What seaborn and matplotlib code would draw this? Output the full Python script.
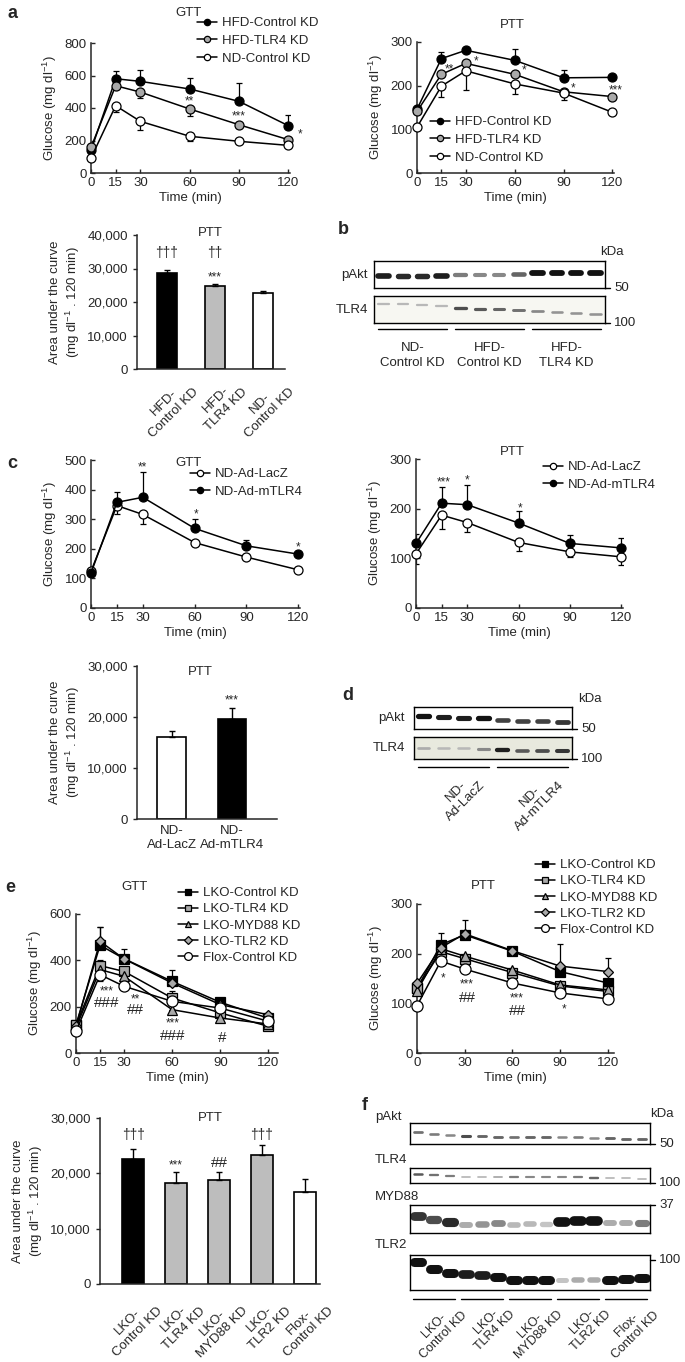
import matplotlib
matplotlib.use("Agg")
import matplotlib.pyplot as plt
import matplotlib.transforms as mtrans
import seaborn as sns
import pandas as pd

sns.set_style("ticks")
plt.rcParams["font.family"] = ["Liberation Sans", "DejaVu Sans"]
plt.rcParams["mathtext.default"] = "regular"
plt.rcParams["font.size"] = 9

# ---------------- data ----------------
TIME = [0, 15, 30, 60, 90, 120]

# a: GTT / PTT (signed error: + drawn up, - drawn down)
A_GTT_HFD_CTRL = [140, 580, 564, 517, 441, 291]
A_GTT_HFD_CTRL_ERR = [0, 50, 70, 68, 113, 68]
A_GTT_HFD_TLR4 = [158, 537, 498, 394, 297, 205]
A_GTT_HFD_TLR4_ERR = [0, 0, -36, -45, 0, 0]
A_GTT_ND_CTRL = [92, 414, 318, 226, 195, 170]
A_GTT_ND_CTRL_ERR = [0, -39, -55, -31, 0, 0]

A_PTT_HFD_CTRL = [146, 262, 281, 258, 218, 219]
A_PTT_HFD_CTRL_ERR = [0, 15, 5, 27, 19, 0]
A_PTT_HFD_TLR4 = [141, 226, 251, 226, 186, 175]
A_PTT_HFD_TLR4_ERR = [0, 0, 0, 0, -19, 0]
A_PTT_ND_CTRL = [105, 199, 234, 204, 183, 139]
A_PTT_ND_CTRL_ERR = [0, -24, -43, -22, 0, 0]

A_AUC_GROUPS = ["HFD-\nControl KD", "HFD-\nTLR4 KD", "ND-\nControl KD"]
A_AUC = [28700, 24700, 22600]
A_AUC_ERR = [900, 700, 600]

# c: adenoviral TLR4
C_GTT_LACZ = [124, 346, 316, 221, 172, 129]
C_GTT_LACZ_ERR = [0, -29, -32, -10, -5, 0]
C_GTT_MTLR4 = [118, 357, 374, 269, 210, 182]
C_GTT_MTLR4_ERR = [0, 36, 84, 31, 20, 8]

C_PTT_LACZ = [109, 187, 172, 132, 113, 103]
C_PTT_LACZ_ERR = [-20, -28, -18, -17, -11, -16]
C_PTT_MTLR4 = [130, 211, 208, 171, 130, 121]
C_PTT_MTLR4_ERR = [20, 32, 39, 24, 16, 19]

C_AUC_GROUPS = ["ND-\nAd-LacZ", "ND-\nAd-mTLR4"]
C_AUC = [16100, 19700]
C_AUC_ERR = [1100, 2100]

# e: LKO knockdowns
E_GTT_CTRL = [122, 465, 407, 309, 219, 150]
E_GTT_CTRL_ERR = [0, 80, 40, 48, 18, 0]
E_GTT_TLR4 = [120, 377, 352, 237, 173, 115]
E_GTT_TLR4_ERR = [0, 26, 19, 29, 0, 0]
E_GTT_MYD88 = [110, 360, 331, 187, 151, 125]
E_GTT_MYD88_ERR = [0, 0, 0, 0, 0, 0]
E_GTT_TLR2 = [115, 482, 406, 302, 209, 165]
E_GTT_TLR2_ERR = [0, 60, 0, 0, 0, 0]
E_GTT_FLOX = [94, 338, 288, 223, 194, 137]
E_GTT_FLOX_ERR = [0, -29, 0, 0, 0, 0]

E_PTT_CTRL = [130, 218, 238, 205, 164, 141]
E_PTT_CTRL_ERR = [0, 23, 30, 8, 0, 0]
E_PTT_TLR4 = [130, 204, 190, 162, 135, 124]
E_PTT_TLR4_ERR = [0, 0, 0, 0, 0, 0]
E_PTT_MYD88 = [125, 210, 195, 167, 137, 127]
E_PTT_MYD88_ERR = [0, 0, 0, 0, 0, 0]
E_PTT_TLR2 = [140, 212, 240, 206, 175, 164]
E_PTT_TLR2_ERR = [0, 0, 0, 0, 45, 27]
E_PTT_FLOX = [95, 185, 169, 141, 121, 109]
E_PTT_FLOX_ERR = [0, 0, 0, 0, 0, 0]

E_AUC_GROUPS = ["LKO-\nControl KD", "LKO-\nTLR4 KD", "LKO-\nMYD88 KD", "LKO-\nTLR2 KD", "Flox-\nControl KD"]
E_AUC = [22600, 18300, 18800, 23400, 16600]
E_AUC_ERR = [1800, 1900, 1400, 1800, 2400]

# western blots: band intensity (0-1) and vertical band position in box (0 top, 1 bottom)
B_PAKT = [0.95, 0.9, 0.9, 0.95, 0.55, 0.5, 0.5, 0.65, 1.0, 1.0, 1.0, 1.0]
B_PAKT_Y = [0.55, 0.55, 0.55, 0.54, 0.53, 0.52, 0.5, 0.48, 0.45, 0.44, 0.44, 0.44]
B_TLR4 = [0.3, 0.3, 0.3, 0.3, 0.75, 0.7, 0.65, 0.6, 0.5, 0.45, 0.45, 0.45]
B_TLR4_Y = [0.28, 0.3, 0.33, 0.37, 0.45, 0.48, 0.5, 0.52, 0.56, 0.6, 0.64, 0.66]
B_GROUPS = ["ND-\nControl KD", "HFD-\nControl KD", "HFD-\nTLR4 KD"]

D_PAKT = [1.0, 0.95, 0.95, 1.0, 0.8, 0.8, 0.8, 0.85]
D_PAKT_Y = [0.42, 0.45, 0.5, 0.52, 0.6, 0.62, 0.64, 0.66]
D_TLR4 = [0.35, 0.3, 0.3, 0.5, 0.95, 0.7, 0.75, 0.85]
D_TLR4_Y = [0.48, 0.5, 0.52, 0.55, 0.6, 0.62, 0.63, 0.64]
D_GROUPS = ["ND-\nAd-LacZ", "ND-\nAd-mTLR4"]

F_PAKT = [0.6, 0.55, 0.5, 0.75, 0.65, 0.65, 0.6, 0.65, 0.65, 0.5, 0.55, 0.5, 0.65, 0.65, 0.65]
F_PAKT_Y = [0.45, 0.5, 0.55, 0.62, 0.64, 0.66, 0.66, 0.66, 0.66, 0.68, 0.68, 0.7, 0.72, 0.74, 0.76]
F_TLR4 = [0.7, 0.6, 0.55, 0.3, 0.3, 0.35, 0.55, 0.5, 0.5, 0.5, 0.55, 0.65, 0.3, 0.3, 0.3]
F_TLR4_Y = [0.42, 0.48, 0.52, 0.6, 0.6, 0.6, 0.62, 0.62, 0.62, 0.62, 0.62, 0.64, 0.68, 0.68, 0.7]
F_MYD88 = [0.85, 0.75, 0.9, 0.35, 0.45, 0.5, 0.3, 0.3, 0.25, 1.0, 1.0, 1.0, 0.35, 0.35, 0.55]
F_MYD88_Y = [0.4, 0.55, 0.6, 0.7, 0.68, 0.66, 0.7, 0.68, 0.68, 0.6, 0.58, 0.58, 0.66, 0.66, 0.64]
F_TLR2 = [1.0, 1.0, 1.0, 0.95, 0.95, 1.0, 1.0, 1.0, 1.0, 0.25, 0.35, 0.35, 1.0, 1.0, 1.0]
F_TLR2_Y = [0.19, 0.4, 0.5, 0.55, 0.58, 0.63, 0.7, 0.71, 0.71, 0.72, 0.71, 0.71, 0.7, 0.69, 0.67]
F_GROUPS = E_AUC_GROUPS

GRAY = "#a9a9a9"
BAR_GRAY = "#bdbdbd"

# ---------------- layout helpers ----------------
W, H = 685, 1362
fig = plt.figure(figsize=(W / 100, H / 100), dpi=100)


def px_ax(x0, y0, x1, y1):
    return fig.add_axes([x0 / W, 1 - y1 / H, (x1 - x0) / W, (y1 - y0) / H])


def ftext(x, y, s, **kw):
    fig.text(x / W, 1 - y / H, s, **kw)


def split_err(err):
    return [[-e if e < 0 else 0 for e in err], [e if e > 0 else 0 for e in err]]


def curve_panel(box, series, ymax, yticks, xticks, xmax, legend_at, lspace=0.4):
    ax = px_ax(*box)
    for name, vals, err, marker, fill, ms in series:
        ax.errorbar(TIME, vals, yerr=split_err(err), fmt="none", ecolor="black",
                    elinewidth=0.9, capsize=2, capthick=0.9, zorder=1)
        sns.lineplot(x=TIME, y=vals, ax=ax, color="black", lw=1.1, marker=marker,
                     markersize=ms, markerfacecolor=fill, markeredgecolor="black",
                     markeredgewidth=0.9, label=name, errorbar=None, clip_on=False, zorder=3)
    ax.set_xlim(0, xmax)
    ax.set_ylim(0, ymax)
    ax.set_xticks(xticks)
    ax.set_yticks(yticks)
    ax.tick_params(direction="in", length=3, width=1, labelsize=9.5, pad=3)
    ax.set_xlabel("Time (min)", fontsize=9.5, labelpad=2)
    ax.set_ylabel("Glucose (mg dl$^{-1}$)", fontsize=9.5, labelpad=4)
    sns.despine(ax=ax)
    for s in ["left", "bottom"]:
        ax.spines[s].set_linewidth(1.1)
    ax.legend(loc="upper left", bbox_to_anchor=(legend_at[0] / W, 1 - legend_at[1] / H),
              bbox_transform=fig.transFigure, frameon=False, fontsize=9.5,
              handlelength=1.5, handletextpad=0.4, labelspacing=lspace,
              borderpad=0, borderaxespad=0, markerscale=0.7)
    return ax


def marks(ax, items, size=8.5):
    for x, y, s in items:
        fs = 11 if "#" in s else (10 if "\u2020" in s else size)
        ax.text(x, y, s, ha="center", va="center", fontsize=fs, clip_on=False)


def auc_panel(box, groups, vals, err, colors, width, xlim, rot, dx, pad):
    ax = px_ax(*box)
    df = pd.DataFrame({"group": groups, "auc": vals})
    sns.barplot(data=df, x="group", y="auc", hue="group", palette=dict(zip(groups, colors)),
                edgecolor="black", linewidth=1.2, width=width, errorbar=None, legend=False, ax=ax)
    ax.errorbar(range(len(vals)), vals, yerr=[[0] * len(vals), err], fmt="none",
                ecolor="black", elinewidth=1, capsize=2, capthick=1)
    ax.set_xlim(*xlim)
    ax.set_xlabel("")
    ax.set_ylabel("Area under the curve\n(mg dl$^{-1}$ . 120 min)", fontsize=9.5, labelpad=4)
    ax.tick_params(axis="x", length=0, pad=pad, labelsize=9.5)
    ax.tick_params(axis="y", direction="out", length=3, width=1, labelsize=9.5)
    ax.set_xticks(range(len(groups)))
    if rot:
        ax.set_xticklabels(groups, rotation=45, ha="right", va="top",
                           rotation_mode="anchor", multialignment="center")
        off = mtrans.ScaledTranslation(dx / 100, 0, fig.dpi_scale_trans)
        for lbl in ax.get_xticklabels():
            lbl.set_transform(lbl.get_transform() + off)
    else:
        ax.set_xticklabels(groups, linespacing=1.3)
    sns.despine(ax=ax)
    for s in ["left", "bottom"]:
        ax.spines[s].set_linewidth(1.1)
    return ax


def blot(box, inten, ypos, thick, bg="white", width=0.55):
    ax = px_ax(*box)
    n = len(inten)
    for i, (v, y) in enumerate(zip(inten, ypos)):
        ax.plot([i - width / 2, i + width / 2], [y, y], color=str(round(1 - 0.93 * v, 3)),
                lw=thick * (0.4 + 0.6 * v), solid_capstyle="round")
    ax.set_xlim(-0.5, n - 0.5)
    ax.set_ylim(1, 0)
    ax.set_facecolor(bg)
    ax.set_xticks([])
    ax.set_yticks([])
    for s in ax.spines.values():
        s.set_visible(True)
        s.set_linewidth(1.0)
        s.set_color("black")
    return ax


def kda_tick(ax, from_top, label, size=9.5):
    y = 1.0 - from_top
    ax.plot([1.0, 1.0 + 5 / ax.bbox.width], [y, y], transform=ax.transAxes,
            color="black", lw=1, clip_on=False)
    ax.text(1.0 + 9 / ax.bbox.width, y, label, transform=ax.transAxes,
            ha="left", va="center", fontsize=size)


def group_lines(ax, n_groups, n_per, ybar):
    for k in range(n_groups):
        ax.plot([k * n_per - 0.3, k * n_per + n_per - 0.7], [ybar, ybar], color="black",
                lw=1, clip_on=False)


# ---------------- panel a ----------------
ax = curve_panel((91, 43, 290, 173), [
    ("HFD-Control KD", A_GTT_HFD_CTRL, A_GTT_HFD_CTRL_ERR, "o", "black", 6.5),
    ("HFD-TLR4 KD", A_GTT_HFD_TLR4, A_GTT_HFD_TLR4_ERR, "o", GRAY, 6.5),
    ("ND-Control KD", A_GTT_ND_CTRL, A_GTT_ND_CTRL_ERR, "o", "white", 6.5),
], 800, [0, 200, 400, 600, 800], TIME, 121, (197, 17), 0.42)
marks(ax, [(60, 440, "**"), (90, 348, "***"), (127, 236, "*")])

ax = curve_panel((417, 42, 614, 173), [
    ("HFD-Control KD", A_PTT_HFD_CTRL, A_PTT_HFD_CTRL_ERR, "o", "black", 6.5),
    ("HFD-TLR4 KD", A_PTT_HFD_TLR4, A_PTT_HFD_TLR4_ERR, "o", GRAY, 6.5),
    ("ND-Control KD", A_PTT_ND_CTRL, A_PTT_ND_CTRL_ERR, "o", "white", 6.5),
], 300, [0, 100, 200, 300], TIME, 121, (430, 116), 0.42)
marks(ax, [(20, 238, "**"), (36, 256, "*"), (66, 234, "*"), (96, 193, "*"), (122, 188, "***")])

ax = auc_panel((137, 235, 285, 369), A_AUC_GROUPS, A_AUC, A_AUC_ERR,
               ["black", BAR_GRAY, "white"], 0.42, (-0.625, 2.46), True, 16, 5)
ax.set_ylim(0, 40000)
ax.set_yticks([0, 10000, 20000, 30000, 40000])
ax.set_yticklabels(["0", "10,000", "20,000", "30,000", "40,000"])
marks(ax, [(0, 34630, "\u2020\u2020\u2020"), (1, 34630, "\u2020\u2020"), (1, 27400, "***")])

# ---------------- panel b ----------------
b1 = blot((374, 261, 605, 288), B_PAKT, B_PAKT_Y, 4.2)
b2 = blot((374, 296, 605, 323), B_TLR4, B_TLR4_Y, 2.8, bg="#f7f7f2")
kda_tick(b1, 1.0, "50")
kda_tick(b2, 1.0, "100")
group_lines(b2, len(B_GROUPS), 4, 1.22)
for k, g in enumerate(B_GROUPS):
    b2.text(k * 4 + 1.5, 2.2, g, ha="center", va="center", fontsize=9.5, linespacing=1.25)
ftext(368, 275, "pAkt", ha="right", va="center", fontsize=9.5)
ftext(368, 310, "TLR4", ha="right", va="center", fontsize=9.5)
ftext(612, 252, "kDa", ha="center", va="center", fontsize=9.5)

# ---------------- panel c ----------------
ax = curve_panel((91, 460, 300, 608), [
    ("ND-Ad-LacZ", C_GTT_LACZ, C_GTT_LACZ_ERR, "o", "white", 6.5),
    ("ND-Ad-mTLR4", C_GTT_MTLR4, C_GTT_MTLR4_ERR, "o", "black", 6.5),
], 500, [0, 100, 200, 300, 400, 500], TIME, 121, (190, 468), 0.42)
marks(ax, [(30, 476, "**"), (61, 317, "*"), (120, 206, "*")])

ax = curve_panel((416, 459, 623, 608), [
    ("ND-Ad-LacZ", C_PTT_LACZ, C_PTT_LACZ_ERR, "o", "white", 6.5),
    ("ND-Ad-mTLR4", C_PTT_MTLR4, C_PTT_MTLR4_ERR, "o", "black", 6.5),
], 300, [0, 100, 200, 300], TIME, 121, (543, 461), 0.42)
marks(ax, [(16, 252, "***"), (30, 256, "*"), (61, 201, "*")])

ax = auc_panel((137, 666, 277, 819), C_AUC_GROUPS, C_AUC, C_AUC_ERR,
               ["white", "black"], 0.48, (-0.58, 1.75), False, 0, 4)
ax.set_ylim(0, 30000)
ax.set_yticks([0, 10000, 20000, 30000])
ax.set_yticklabels(["0", "10,000", "20,000", "30,000"])
marks(ax, [(1, 23200, "***")])

# ---------------- panel d ----------------
d1 = blot((414, 707, 572, 729), D_PAKT, D_PAKT_Y, 3.8)
d2 = blot((414, 737, 572, 759), D_TLR4, D_TLR4_Y, 3.2, bg="#e8e9de")
kda_tick(d1, 1.0, "50")
kda_tick(d2, 1.0, "100")
group_lines(d2, len(D_GROUPS), 4, 1.36)
for k, g in enumerate(D_GROUPS):
    d2.text(k * 4 + 2.3, 1.5, g, ha="right", va="top", rotation=45, rotation_mode="anchor",
            multialignment="center", fontsize=9.5, linespacing=1.2)
ftext(405, 718, "pAkt", ha="right", va="center", fontsize=9.5)
ftext(405, 748, "TLR4", ha="right", va="center", fontsize=9.5)
ftext(590, 699, "kDa", ha="center", va="center", fontsize=9.5)

# ---------------- panel e ----------------
E_STYLES = [("s", "black", 7), ("s", GRAY, 7), ("^", GRAY, 7), ("D", GRAY, 5.5), ("o", "white", 8)]
E_NAMES = ["LKO-Control KD", "LKO-TLR4 KD", "LKO-MYD88 KD", "LKO-TLR2 KD", "Flox-Control KD"]
gtt = [(E_GTT_CTRL, E_GTT_CTRL_ERR), (E_GTT_TLR4, E_GTT_TLR4_ERR), (E_GTT_MYD88, E_GTT_MYD88_ERR),
       (E_GTT_TLR2, E_GTT_TLR2_ERR), (E_GTT_FLOX, E_GTT_FLOX_ERR)]
ptt = [(E_PTT_CTRL, E_PTT_CTRL_ERR), (E_PTT_TLR4, E_PTT_TLR4_ERR), (E_PTT_MYD88, E_PTT_MYD88_ERR),
       (E_PTT_TLR2, E_PTT_TLR2_ERR), (E_PTT_FLOX, E_PTT_FLOX_ERR)]
ax = curve_panel((76, 914, 278, 1053),
                 [(n, v, e, m, f, s) for n, (v, e), (m, f, s) in zip(E_NAMES, gtt, E_STYLES)],
                 600, [0, 200, 400, 600], TIME, 126, (178, 887), 0.3)
marks(ax, [(19, 266, "***"), (19, 214, "###"), (37, 230, "**"), (37, 184, "##"),
           (60.5, 128, "***"), (60.5, 72, "###"), (91, 65, "#")])

ax = curve_panel((417, 904, 614, 1053),
                 [(n, v, e, m, f, s) for n, (v, e), (m, f, s) in zip(E_NAMES, ptt, E_STYLES)],
                 300, [0, 100, 200, 300], [0, 30, 60, 90, 120], 124, (535, 859), 0.3)
marks(ax, [(16.4, 151, "*"), (31.5, 138, "***"), (31.5, 111, "##"), (63, 110, "***"),
           (63, 85, "##"), (92.5, 88, "*")])

ax = auc_panel((100, 1118, 320, 1284), E_AUC_GROUPS, E_AUC, E_AUC_ERR,
               ["black", BAR_GRAY, BAR_GRAY, BAR_GRAY, "white"], 0.51, (-0.77, 4.35), True, 13, 8)
ax.set_ylim(0, 30000)
ax.set_yticks([0, 10000, 20000, 30000])
ax.set_yticklabels(["0", "10,000", "20,000", "30,000"])
marks(ax, [(0, 26930, "\u2020\u2020\u2020"), (1, 21400, "***"), (2, 21870, "##"),
           (3, 26930, "\u2020\u2020\u2020")])

# ---------------- panel f ----------------
f1 = blot((410, 1123, 650, 1144), F_PAKT, F_PAKT_Y, 2.6)
f2 = blot((410, 1168, 650, 1183), F_TLR4, F_TLR4_Y, 2.2)
f3 = blot((410, 1205, 650, 1233), F_MYD88, F_MYD88_Y, 7.0)
f4 = blot((410, 1255, 650, 1290), F_TLR2, F_TLR2_Y, 6.5)
kda_tick(f1, 1.0, "50")
kda_tick(f2, 1.0, "100")
kda_tick(f3, 0.0, "37")
kda_tick(f4, 0.14, "100")
group_lines(f4, len(F_GROUPS), 3, 1.26)
for k, g in enumerate(F_GROUPS):
    f4.text(k * 3 + 2.1, 1.27, g, ha="right", va="top", rotation=45, rotation_mode="anchor",
            multialignment="center", fontsize=9, linespacing=1.15)
for lab, y in [("pAkt", 1117), ("TLR4", 1160), ("MYD88", 1197), ("TLR2", 1245)]:
    ftext(375, y, lab, ha="left", va="center", fontsize=9.5)
ftext(662, 1114, "kDa", ha="center", va="center", fontsize=9.5)

# ---------------- titles and panel letters ----------------
for s, x, y in [("GTT", 188, 13), ("PTT", 512, 25), ("PTT", 210, 233), ("GTT", 188, 463),
                ("PTT", 512, 452), ("PTT", 200, 672), ("GTT", 135, 887), ("PTT", 483, 886),
                ("PTT", 210, 1118)]:
    ftext(x, y, s, ha="center", va="center", fontsize=9.5)
for s, x, y in [("a", 12, 14), ("b", 343, 229), ("c", 12, 463), ("d", 348, 695),
                ("e", 10, 887), ("f", 365, 1105)]:
    ftext(x, y, s, ha="center", va="center", fontsize=13, fontweight="bold")

fig.savefig("out.png", dpi=100)
